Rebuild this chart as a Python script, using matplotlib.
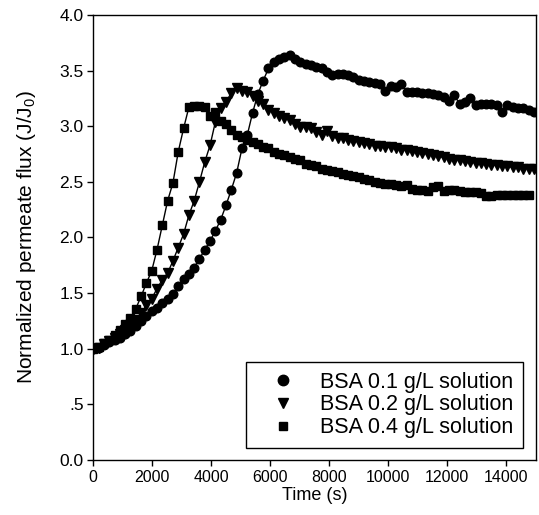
import numpy as np
import matplotlib
matplotlib.use("Agg")
import matplotlib.pyplot as plt
from matplotlib.lines import Line2D

plt.rcParams["font.family"] = ["Liberation Sans", "DejaVu Sans"]
plt.rcParams["mathtext.default"] = "regular"

# sampling times (s), one reading every 3 min
time_s = np.arange(0, 15000, 180)

# BSA 0.1 g/L
flux_01 = [1.00, 1.01, 1.03, 1.06, 1.08, 1.10, 1.13, 1.16, 1.20, 1.25,
           1.29, 1.34, 1.37, 1.41, 1.45, 1.49, 1.56, 1.63, 1.67, 1.73,
           1.81, 1.89, 1.97, 2.06, 2.16, 2.29, 2.43, 2.58, 2.80, 2.92,
           3.12, 3.29, 3.41, 3.52, 3.58, 3.60, 3.62, 3.64, 3.60, 3.58,
           3.56, 3.55, 3.53, 3.52, 3.49, 3.46, 3.47, 3.47, 3.46, 3.44,
           3.42, 3.41, 3.40, 3.39, 3.38, 3.32, 3.36, 3.35, 3.38, 3.31,
           3.31, 3.31, 3.30, 3.30, 3.29, 3.28, 3.26, 3.23, 3.28, 3.20,
           3.22, 3.25, 3.19, 3.20, 3.20, 3.20, 3.19, 3.13, 3.19, 3.17,
           3.16, 3.16, 3.15, 3.13]

# BSA 0.2 g/L
flux_02 = [1.00, 1.01, 1.04, 1.07, 1.10, 1.13, 1.17, 1.21, 1.26, 1.32,
           1.39, 1.45, 1.54, 1.62, 1.68, 1.79, 1.91, 2.03, 2.20, 2.33,
           2.50, 2.68, 2.83, 3.04, 3.16, 3.22, 3.30, 3.34, 3.32, 3.31,
           3.27, 3.23, 3.20, 3.15, 3.12, 3.09, 3.07, 3.06, 3.02, 2.99,
           2.99, 2.98, 2.95, 2.92, 2.96, 2.91, 2.89, 2.89, 2.88, 2.87,
           2.86, 2.85, 2.84, 2.82, 2.82, 2.81, 2.81, 2.80, 2.79, 2.79,
           2.78, 2.77, 2.76, 2.75, 2.74, 2.73, 2.72, 2.71, 2.70, 2.70,
           2.69, 2.68, 2.67, 2.67, 2.66, 2.65, 2.65, 2.64, 2.64, 2.63,
           2.63, 2.62, 2.62, 2.62]

# BSA 0.4 g/L
flux_04 = [1.00, 1.02, 1.05, 1.08, 1.12, 1.17, 1.22, 1.28, 1.36, 1.47,
           1.59, 1.70, 1.89, 2.11, 2.33, 2.49, 2.77, 2.98, 3.17, 3.18,
           3.18, 3.17, 3.09, 3.13, 3.05, 3.02, 2.97, 2.92, 2.90, 2.88,
           2.86, 2.84, 2.81, 2.80, 2.77, 2.75, 2.74, 2.72, 2.71, 2.70,
           2.66, 2.65, 2.64, 2.62, 2.61, 2.60, 2.59, 2.57, 2.56, 2.55,
           2.54, 2.53, 2.52, 2.50, 2.49, 2.48, 2.48, 2.47, 2.46, 2.47,
           2.44, 2.43, 2.43, 2.42, 2.45, 2.46, 2.42, 2.43, 2.43, 2.42,
           2.41, 2.41, 2.41, 2.40, 2.37, 2.37, 2.38, 2.38, 2.38, 2.38,
           2.38, 2.38, 2.38]

labels = ["BSA 0.1 g/L solution", "BSA 0.2 g/L solution", "BSA 0.4 g/L solution"]
y_ticks = [0.0, 0.5, 1.0, 1.5, 2.0, 2.5, 3.0, 3.5, 4.0]
y_tick_labels = ["0.0", ".5", "1.0", "1.5", "2.0", "2.5", "3.0", "3.5", "4.0"]
x_ticks = [0, 2000, 4000, 6000, 8000, 10000, 12000, 14000]


def main():
    fig = plt.figure(figsize=(5.39, 5.15), dpi=100)
    ax = fig.add_axes([0.1731, 0.1068, 0.8208, 0.8641])

    # (values, marker, size in plot, size in legend)
    series = [(flux_01, "o", 6.2, 7.5), (flux_02, "v", 6.8, 7.5),
              (flux_04, "s", 5.8, 6.2)]
    handles = []
    for (y, m, ms, lms), lab in zip(series, labels):
        ax.plot(time_s[:len(y)], y, color="k", lw=1.0, marker=m, ms=ms,
                mfc="k", mec="k")
        handles.append(Line2D([], [], ls="none", marker=m, ms=lms,
                              color="k", label=lab))

    ax.set_xlim(0, 15000)
    ax.set_ylim(0, 4.0)
    ax.set_xticks(x_ticks)
    ax.set_yticks(y_ticks)
    ax.set_yticklabels(y_tick_labels)
    ax.tick_params(direction="out", length=4, width=1, top=False, right=False)
    ax.tick_params(axis="x", labelsize=11.5, pad=3)
    ax.tick_params(axis="y", labelsize=12.5, pad=3)
    for s in ax.spines.values():
        s.set_linewidth(1.0)

    ax.set_xlabel("Time (s)", fontsize=13, labelpad=2)
    ax.set_ylabel("Normalized permeate flux (J/J$_0$)", fontsize=15, labelpad=15)

    leg = ax.legend(handles=handles, loc="lower right",
                    bbox_to_anchor=(0.971, 0.027), fontsize=15.5,
                    frameon=True, fancybox=False, edgecolor="k",
                    framealpha=1, borderpad=0.46, labelspacing=0.08,
                    handlelength=2.5, handletextpad=0.45, borderaxespad=0)
    leg.get_frame().set_linewidth(1.0)

    fig.savefig("out.png", dpi=100)


if __name__ == "__main__":
    main()
